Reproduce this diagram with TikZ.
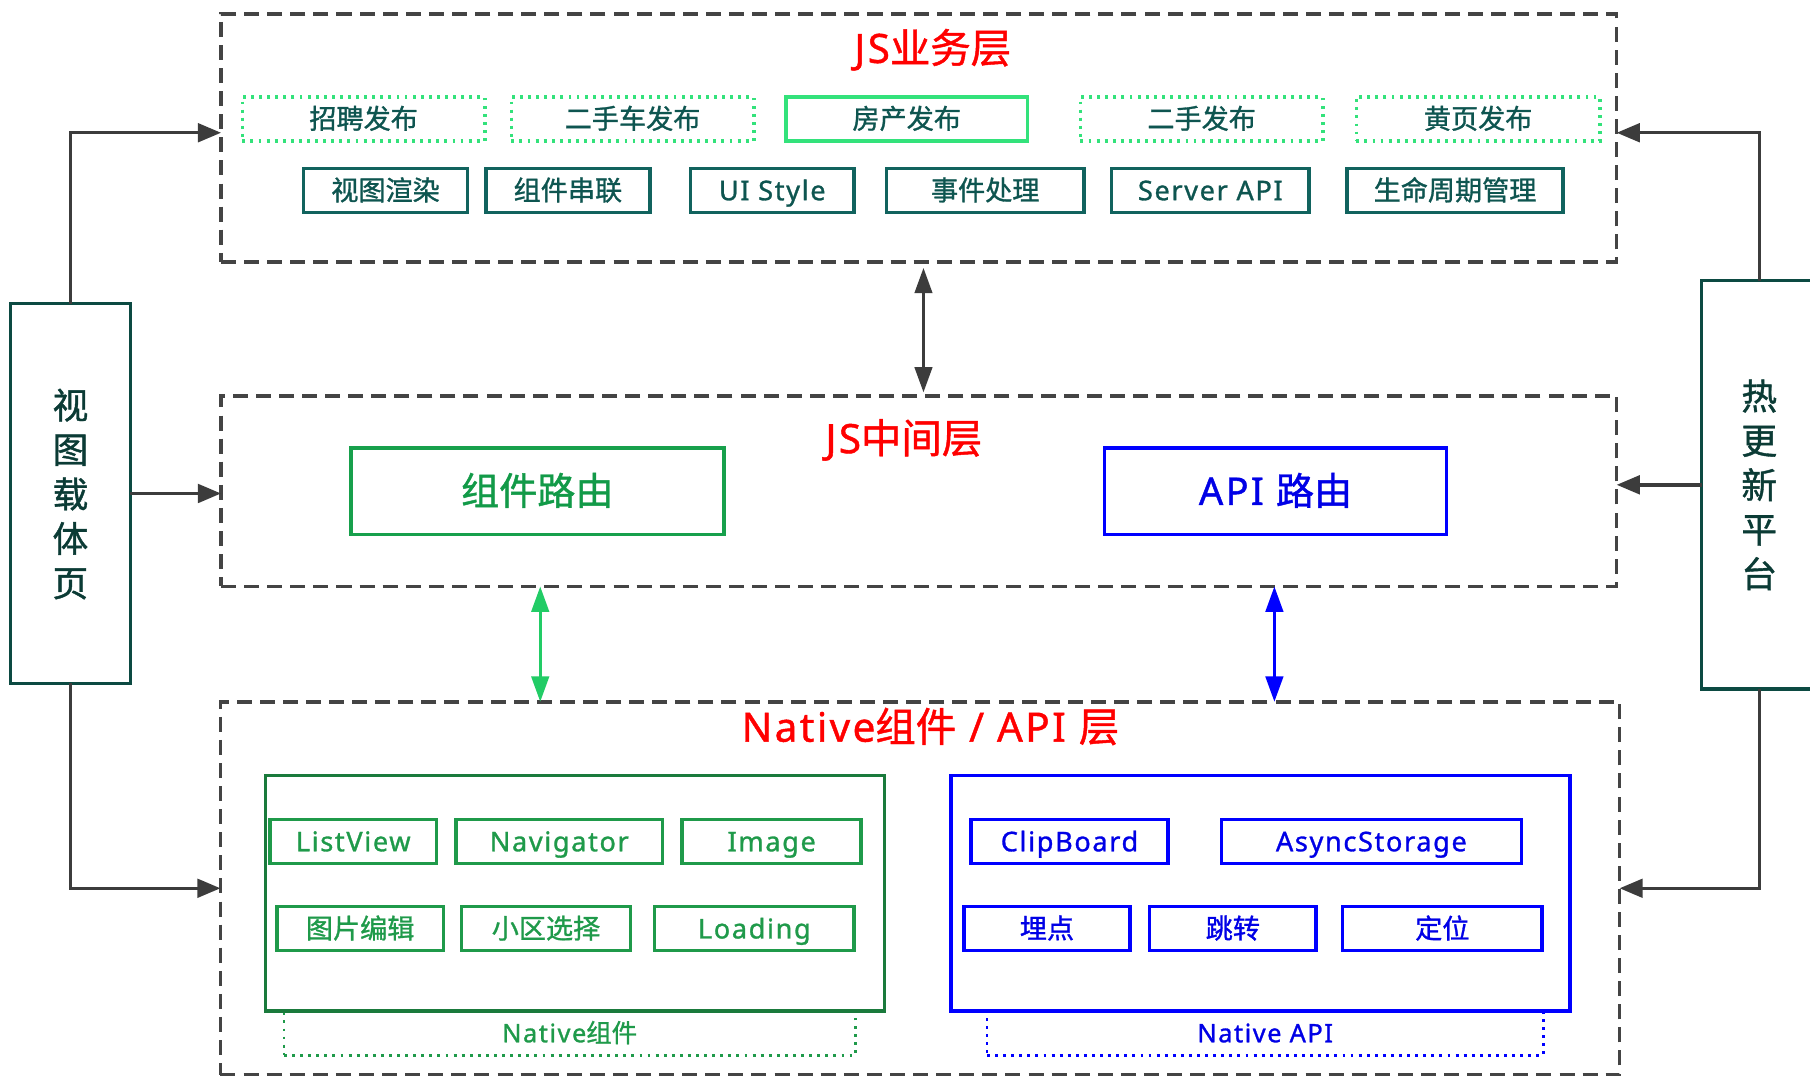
\documentclass[tikz,border=0pt]{standalone}
\usepackage{fontspec}
\setmainfont{Noto Sans}[FakeBold=1.1, LetterSpace=6]
\newfontfamily\cjk{Noto Sans CJK SC}[FakeBold=1.1]
\usetikzlibrary{arrows.meta,calc}
\definecolor{layergray}{HTML}{444444}
\definecolor{arrgray}{HTML}{3C3C3C}
\definecolor{tealb}{HTML}{11635E}
\definecolor{tealt}{HTML}{0E5550}
\definecolor{brightg}{HTML}{33E27B}
\definecolor{sideb}{HTML}{0C4A42}
\definecolor{sidet}{HTML}{0B3B35}
\definecolor{greenb}{HTML}{17A04C}
\definecolor{greent}{HTML}{129A48}
\definecolor{darkg}{HTML}{1A7A3C}
\definecolor{innerg}{HTML}{1F9A4A}
\definecolor{blueb}{HTML}{0000FF}
\definecolor{bluet}{HTML}{0000E6}
\definecolor{titlered}{HTML}{FF0000}
\definecolor{arrg}{HTML}{22CC66}
\tikzset{
  every node/.style={inner sep=0pt, outer sep=0pt},
  layer/.style={draw=layergray, line width=3pt, dash pattern=on 13pt off 7pt, rectangle},
  title/.style={text=titlered, font=\fontsize{35}{40}\selectfont, text height=30pt, text depth=5pt},
  fs/.style={font=\fontsize{23.5}{27}\selectfont, text height=20.2pt, text depth=3.3pt},
  pubdot/.style={fs, draw=brightg, line width=3pt, dash pattern=on 2.5pt off 4.5pt, text=tealt, minimum height=38pt},
  pubsolid/.style={fs, draw=brightg, line width=3pt, text=tealt, minimum height=38pt},
  tealbox/.style={fs, draw=tealb, line width=3pt, text=tealt, minimum height=38pt},
  sidebox/.style={draw=sideb, line width=3pt},
  sidetext/.style={text=sidet, align=center, font=\fontsize{31}{38.5}\selectfont\cjk},
  routefs/.style={font=\fontsize{33}{38}\selectfont, text height=28.4pt, text depth=4.6pt},
  routeg/.style={routefs, draw=greenb, line width=3pt, text=greent, minimum height=75pt},
  routeb/.style={routefs, draw=blueb, line width=3pt, text=bluet, minimum height=75pt},
  contg/.style={draw=darkg, line width=3pt},
  contb/.style={draw=blueb, line width=3pt},
  itemg/.style={fs, draw=innerg, line width=3pt, text=innerg, minimum height=38pt},
  itemb/.style={fs, draw=blueb, line width=3pt, text=bluet, minimum height=38pt},
  labfs/.style={font=\fontsize{22}{26}\selectfont, text height=18.9pt, text depth=3.1pt},
  labg/.style={labfs, draw=innerg, line width=2.5pt, dash pattern=on 2.5pt off 4.5pt, text=innerg, minimum height=38pt},
  labb/.style={labfs, draw=blueb, line width=2.5pt, dash pattern=on 2.5pt off 4.5pt, text=bluet, minimum height=38pt},
  conn/.style={draw=arrgray, line width=3pt, -{Triangle[length=20pt,width=16pt]}},
  dblgray/.style={draw=arrgray, line width=3pt, {Triangle[length=22pt,width=15pt]}-{Triangle[length=22pt,width=15pt]}},
  dblgreen/.style={draw=arrg, line width=3pt, {Triangle[length=22pt,width=15pt]}-{Triangle[length=22pt,width=15pt]}},
  dblblue/.style={draw=blueb, line width=3pt, {Triangle[length=22pt,width=15pt]}-{Triangle[length=22pt,width=15pt]}},
}
\begin{document}
\begin{tikzpicture}[x=1pt,y=-1pt]
\useasboundingbox (0,0) rectangle (1568,934);
\clip (0,0) rectangle (1568,934);
\fill[white] (0,0) rectangle (1568,934);

% layers
\node[layer, minimum width=1209pt, minimum height=215pt] (top) at (796,119.5) {};
\node[layer, minimum width=1209pt, minimum height=165pt] (mid) at (796,425.5) {};
\node[layer, minimum width=1212pt, minimum height=323pt] (bot) at (797,769.5) {};

\node[title] (t1) at (808,42) {JS{\cjk 业务层}};
\node[title] (t2) at (783,380) {JS{\cjk 中间层}};
\node[title] (t3) at (806,630) {Native{\cjk 组件} / API {\cjk 层}};

% top row 1
\node[pubdot, minimum width=210pt] (p1) at (315,103) {\cjk 招聘发布};
\node[pubdot, minimum width=210pt] (p2) at (548,103) {\cjk 二手车发布};
\node[pubsolid, minimum width=209pt] (p3) at (785.5,103) {\cjk 房产发布};
\node[pubdot, minimum width=210pt] (p4) at (1041,103) {\cjk 二手发布};
\node[pubdot, minimum width=211pt] (p5) at (1280.5,103) {\cjk 黄页发布};
% top row 2
\node[tealbox, minimum width=142pt] (s1) at (334,165) {\cjk 视图渲染};
\node[tealbox, minimum width=142pt] (s2) at (492,165) {\cjk 组件串联};
\node[tealbox, minimum width=142pt] (s3) at (669,165) {UI Style};
\node[tealbox, minimum width=171pt] (s4) at (853.5,165) {\cjk 事件处理};
\node[tealbox, minimum width=171pt] (s5) at (1048.5,165) {Server API};
\node[tealbox, minimum width=187pt] (s6) at (1260.5,165) {\cjk 生命周期管理};

% middle
\node[routeg, minimum width=323pt] (zl) at (465.5,425.5) {\cjk 组件路由};
\node[routeb, minimum width=296pt] (al) at (1105,425.5) {API {\cjk 路由}};

% side boxes
\node[sidebox, minimum width=104pt, minimum height=329pt] (lb) at (61,427.5) {};
\node[sidetext] (lbt) at (61,428) {视\\图\\载\\体\\页};
\node[sidebox, minimum width=104pt, minimum height=354pt] (rb) at (1526,420) {};
\node[sidetext] (rbt) at (1524,420) {热\\更\\新\\平\\台};

% bottom: native components
\node[labg, minimum width=495pt] (ncl) at (493.5,895) {Native{\cjk 组件}};
\node[contg, minimum width=536pt, minimum height=204pt] (nc) at (498,774) {};
\node[itemg, minimum width=144pt] (c1) at (306,729) {ListView};
\node[itemg, minimum width=179pt] (c2) at (484.5,729) {Navigator};
\node[itemg, minimum width=155pt] (c3) at (668.5,729) {Image};
\node[itemg, minimum width=144pt] (c4) at (312,804.5) {\cjk 图片编辑};
\node[itemg, minimum width=146pt] (c5) at (473,804.5) {\cjk 小区选择};
\node[itemg, minimum width=173pt] (c6) at (653.5,804.5) {Loading};

% bottom: native api
\node[labb, minimum width=482pt] (nal) at (1096,895) {Native API};
\node[contb, minimum width=536pt, minimum height=204pt] (na) at (1092,774) {};
\node[itemb, minimum width=171pt] (a1) at (926.5,729) {ClipBoard};
\node[itemb, minimum width=260pt] (a2) at (1188,729) {AsyncStorage};
\node[itemb, minimum width=144pt] (a3) at (907,804.5) {\cjk 埋点};
\node[itemb, minimum width=144pt] (a4) at (1068,804.5) {\cjk 跳转};
\node[itemb, minimum width=173pt] (a5) at (1249.5,804.5) {\cjk 定位};

% connectors: left
\draw[conn] (lb.north) |- ([yshift=4.5pt]top.west);
\draw[conn] (lb.east) -- (lb.east -| mid.west);
\draw[conn] (lb.south) |- (bot.west);
% connectors: right
\draw[conn] ([xshift=-2pt]rb.north) |- ([yshift=4.5pt]top.east);
\draw[conn] (rb.west) -- (rb.west -| mid.east);
\draw[conn] ([xshift=-2pt]rb.south) |- (bot.east);

% vertical double arrows
\coordinate (ax) at (800,0);
\draw[dblgray] ([yshift=-5pt]top.south -| ax) -- ([yshift=3pt]mid.north -| ax);
\draw[dblgreen] ([xshift=2.5pt]zl.south |- mid.south) -- ([xshift=2.5pt]zl.south |- bot.north);
\draw[dblblue] ([xshift=-1pt]al.south |- mid.south) -- ([xshift=-1pt]al.south |- bot.north);
\end{tikzpicture}
\end{document}
